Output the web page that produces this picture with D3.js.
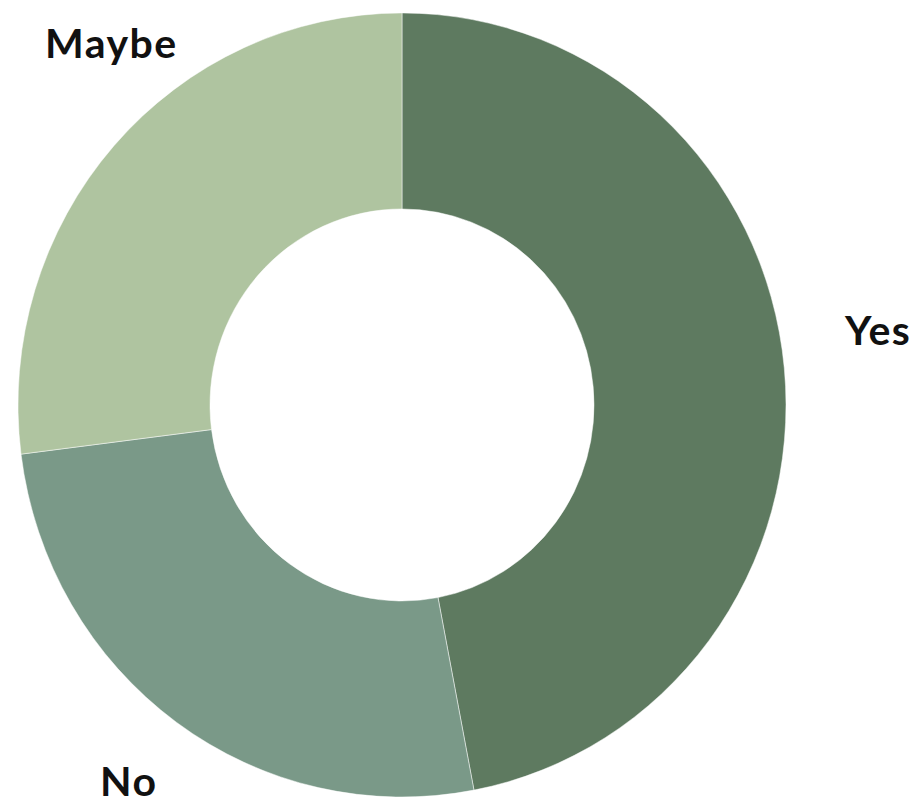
<!DOCTYPE html>
<html>
<head>
<meta charset="utf-8">
<script src="https://cdn.jsdelivr.net/npm/d3@7"></script>
<style>
  html, body { margin: 0; padding: 0; background: #fff; }
  svg { display: block; }
</style>
</head>
<body>
<svg id="chart" width="920" height="807"></svg>
<script>
// Survey answers
const categories = ["Yes", "No", "Maybe"];
const values = [47, 26, 27];
const colors = ["#5e7a60", "#7a9988", "#afc4a0"];

// Layout
const W = 920, H = 807;
const cx = 402, cy = 405;
const outerR = 384, innerR = 192;
const yStretch = 1.021;
const labelPos = {
  Yes:   { x: 845, y: 345 },
  No:    { x: 100, y: 796 },
  Maybe: { x: 45,  y: 58 }
};

const data = categories.map((c, i) => ({ label: c, value: values[i], color: colors[i] }));

const svg = d3.select("#chart");

const pie = d3.pie()
  .value(d => d.value)
  .sort(null)
  .startAngle(0)
  .endAngle(2 * Math.PI);

const arc = d3.arc()
  .innerRadius(innerR)
  .outerRadius(outerR);

const g = svg.append("g")
  .attr("transform", `translate(${cx},${cy}) scale(1,${yStretch})`);

g.selectAll("path")
  .data(pie(data))
  .join("path")
  .attr("d", arc)
  .attr("fill", d => d.data.color)
  .attr("stroke", "#ffffff")
  .attr("stroke-width", 0.8)
  .attr("stroke-opacity", 0.6);

svg.append("g")
  .selectAll("text")
  .data(data)
  .join("text")
  .attr("x", d => labelPos[d.label].x)
  .attr("y", d => labelPos[d.label].y)
  .attr("font-family", "Lato, 'Open Sans', sans-serif")
  .attr("font-weight", 700)
  .attr("font-size", 41)
  .attr("letter-spacing", 1.5)
  .attr("fill", "#111111")
  .text(d => d.label);
</script>
</body>
</html>
